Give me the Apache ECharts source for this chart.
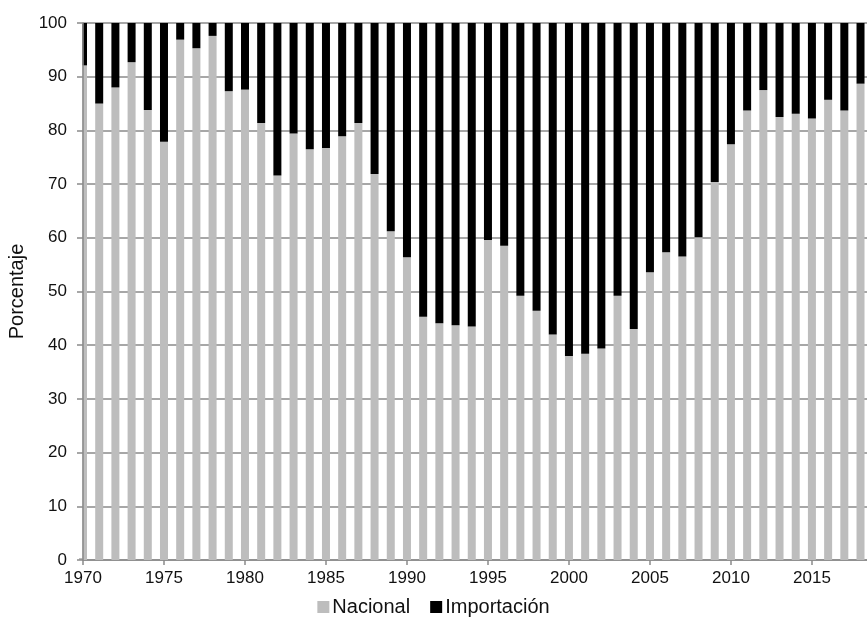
<!DOCTYPE html>
<html>
<head>
<meta charset="utf-8">
<script src="https://cdn.jsdelivr.net/npm/echarts@6/dist/echarts.min.js"></script>
<style>
html,body{margin:0;padding:0;background:#fff;}
#chart{width:867px;height:628px;}
</style>
</head>
<body>
<div id="chart"></div>
<script>
const years = [1970,1971,1972,1973,1974,1975,1976,1977,1978,1979,
  1980,1981,1982,1983,1984,1985,1986,1987,1988,1989,
  1990,1991,1992,1993,1994,1995,1996,1997,1998,1999,
  2000,2001,2002,2003,2004,2005,2006,2007,2008,2009,
  2010,2011,2012,2013,2014,2015,2016,2017,2018];
const nacional = [92.1,85.0,88.0,92.7,83.8,77.9,96.9,95.3,97.6,87.3,
  87.6,81.4,71.6,79.4,76.5,76.7,78.9,81.4,71.9,61.2,
  56.4,45.3,44.1,43.7,43.5,59.6,58.5,49.2,46.4,42.0,
  38.0,38.4,39.4,49.2,43.0,53.6,57.3,56.5,60.1,70.4,
  77.4,83.7,87.5,82.5,83.1,82.2,85.7,83.7,88.7];
const importacion = [7.9,15.0,12.0,7.3,16.2,22.1,3.1,4.7,2.4,12.7,
  12.4,18.6,28.4,20.6,23.5,23.3,21.1,18.6,28.1,38.8,
  43.6,54.7,55.9,56.3,56.5,40.4,41.5,50.8,53.6,58.0,
  62.0,61.6,60.6,50.8,57.0,46.4,42.7,43.5,39.9,29.6,
  22.6,16.3,12.5,17.5,16.9,17.8,14.3,16.3,11.3];
const yTicks = [0,10,20,30,40,50,60,70,80,90,100];
const seriesNames = ['Nacional','Importación'];

const FONT = '"Liberation Sans", Arial, sans-serif';
const AX = '#8a8a8a';
const chart = echarts.init(document.getElementById('chart'), null, {renderer:'canvas'});
chart.setOption({
  animation:false,
  backgroundColor:'#ffffff',
  textStyle:{fontFamily:FONT},
  grid:{left:83, right:0, top:23, bottom:68, containLabel:false, outerBoundsMode:'none'},
  graphic:[{
    type:'rect', z:3, silent:true,
    shape:{x:70, y:18, width:12.4, height:540},
    style:{fill:'#ffffff'}
  }],
  legend:{
    data:seriesNames,
    bottom:6,
    left:'center',
    icon:'rect',
    itemWidth:12, itemHeight:12,
    itemGap:20,
    textStyle:{fontFamily:FONT, fontSize:20, color:'#111', padding:[0,0,0,-2]}
  },
  xAxis:{
    type:'value',
    min:1970, max:2018.4, interval:5,
    containShape:false,
    axisLine:{show:true, lineStyle:{color:AX, width:1.5}},
    axisTick:{show:true, length:5, lineStyle:{color:AX, width:1.5}},
    splitLine:{show:false},
    axisLabel:{
      fontFamily:FONT, fontSize:17, color:'#111', margin:10,
      showMaxLabel:false,
      formatter:function(v){ return (v % 5 === 0) ? String(v) : ''; }
    }
  },
  yAxis:[
    {
      type:'value',
      min:yTicks[0], max:yTicks[yTicks.length-1], interval:10,
      axisLine:{show:false}, axisTick:{show:false}, axisLabel:{show:false},
      splitLine:{show:true, lineStyle:{color:AX, width:1.5}}
    },
    {
      type:'value', position:'left',
      min:yTicks[0], max:yTicks[yTicks.length-1], interval:10,
      z:5,
      name:'Porcentaje',
      nameLocation:'middle',
      nameGap:56,
      nameTextStyle:{fontFamily:FONT, fontSize:20, color:'#111'},
      axisLine:{show:true, lineStyle:{color:AX, width:1.5}},
      axisTick:{show:true, length:6, lineStyle:{color:AX, width:1.5}},
      splitLine:{show:false},
      axisLabel:{fontFamily:FONT, fontSize:17, color:'#111', margin:16}
    }
  ],
  series:[
    {
      name:seriesNames[0], type:'bar', stack:'total', barWidth:8, clip:true,
      yAxisIndex:0,
      itemStyle:{color:'#bdbdbd'},
      encode:{x:1, y:0},
      data:years.map((y,i)=>[nacional[i], y])
    },
    {
      name:seriesNames[1], type:'bar', stack:'total', barWidth:8, clip:true,
      yAxisIndex:0,
      itemStyle:{color:'#000000'},
      encode:{x:1, y:0},
      data:years.map((y,i)=>[importacion[i], y])
    }
  ]
});
</script>
</body>
</html>
